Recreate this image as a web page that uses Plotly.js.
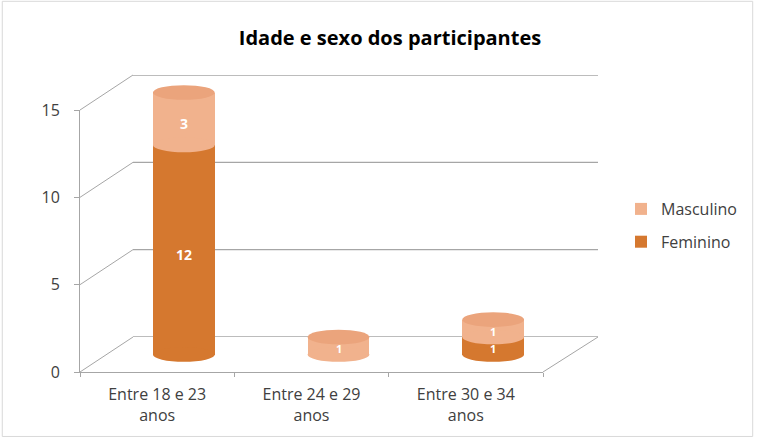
<!DOCTYPE html>
<html>
<head>
<meta charset="utf-8">
<script src="https://cdn.plot.ly/plotly-3.0.1.min.js"></script>
<style>html,body{margin:0;padding:0;background:#fff;}#chart{width:758px;height:440px;}</style>
</head>
<body>
<div id="chart"></div>
<script>
// ---- data ----
const categories = ["Entre 18 e 23<br>anos", "Entre 24 e 29<br>anos", "Entre 30 e 34<br>anos"];
const feminino = [12, 0, 1];
const masculino = [3, 1, 1];
const yTicks = [0, 5, 10, 15];

// ---- styling / geometry ----
const W = 758, H = 440;
const colFem = "#D5782F", colMasc = "#F1B28D", colTop = "#EBA47C";
const px = v => v / W, py = v => 1 - v / H;
const yMax = 15;
const frontX = [px(80), px(543)], frontY = [py(372), py(110)];
const backX = [px(133), px(598)], backY = [py(337), py(75)];
const midX = [(frontX[0] + backX[0]) / 2, (frontX[1] + backX[1]) / 2];
const midY = [(frontY[0] + backY[0]) / 2, (frontY[1] + backY[1]) / 2];
const unit = (midY[1] - midY[0]) / yMax;
const midYext = [midY[0] - unit, midY[1] + unit];
const gridCol = "#A6A6A6";
const font = "'Open Sans', Lato, sans-serif";

const traces = [
  {type: "scatter", x: categories, y: categories.map(() => 0), xaxis: "x", yaxis: "y",
   mode: "markers", marker: {opacity: 0}, showlegend: false, hoverinfo: "skip"},
  {type: "scatter", x: categories, y: categories.map(() => 0), xaxis: "x3", yaxis: "y3",
   mode: "markers", marker: {opacity: 0}, showlegend: false, hoverinfo: "skip"},
  {type: "bar", name: "Feminino", legendgroup: "f", legendrank: 2, x: categories, y: feminino,
   xaxis: "x2", yaxis: "y2", width: 0.4, marker: {color: colFem, line: {width: 0}}},
  {type: "bar", name: "Masculino", legendgroup: "m", legendrank: 1, x: categories, y: masculino,
   xaxis: "x2", yaxis: "y2", width: 0.4, marker: {color: colMasc, line: {width: 0}}}
];

// ---- decorative 3D shapes ----
const shapes = [];
const fy = v => frontY[0] + v / yMax * (frontY[1] - frontY[0]);
const by = v => backY[0] + v / yMax * (backY[1] - backY[0]);
yTicks.forEach(v => {
  shapes.push({type: "line", xref: "paper", yref: "paper", x0: frontX[0], y0: fy(v), x1: backX[0], y1: by(v),
    line: {color: gridCol, width: 1}, layer: "below"});
  shapes.push({type: "line", xref: "x3 domain", yref: "y3", x0: 0, x1: 1, y0: v, y1: v,
    line: {color: gridCol, width: 1.3}, layer: "below"});
});
// floor right edge
shapes.push({type: "line", xref: "paper", yref: "paper", x0: frontX[1], y0: fy(0), x1: backX[1], y1: by(0),
  line: {color: gridCol, width: 1}, layer: "below"});
// cylinder ellipses
const eh = 0.42, bw = 0.2;
const annotations = [];
categories.forEach((c, i) => {
  const segs = [[0, feminino[i], colFem], [feminino[i], feminino[i] + masculino[i], colMasc]];
  segs.forEach(([b, t, col]) => {
    if (t > b) {
      shapes.push({type: "circle", xref: "x2", yref: "y2", x0: i - bw, x1: i + bw,
        y0: b - eh, y1: b + eh, fillcolor: col, line: {width: 0}, layer: "above"});
      const small = (t - b) < 2;
      annotations.push({xref: "x2", yref: "y2", x: i, y: (b + t) / 2, text: "<b>" + (t - b) + "</b>",
        showarrow: false, yshift: small ? -3 : -5, borderpad: 0,
        font: {color: "#ffffff", size: small ? 11 : 14, family: font}});
    }
  });
  const tot = feminino[i] + masculino[i];
  shapes.push({type: "circle", xref: "x2", yref: "y2", x0: i - bw, x1: i + bw,
    y0: tot - eh, y1: tot + eh, fillcolor: colTop, line: {width: 0}, layer: "above"});
});
// chart frame
shapes.push({type: "rect", xref: "paper", yref: "paper", x0: 0.003, x1: 0.993, y0: 0.008, y1: 0.997,
  line: {color: "#D9D9D9", width: 1}, fillcolor: "rgba(0,0,0,0)", layer: "below"});

const layout = {
  width: W, height: H,
  margin: {l: 0, r: 0, t: 0, b: 0},
  paper_bgcolor: "#ffffff", plot_bgcolor: "rgba(0,0,0,0)",
  font: {family: font, color: "#404040", size: 16},
  title: {text: "<b>Idade e sexo dos participantes</b>", x: px(390), xanchor: "center",
    y: py(38), yanchor: "middle", font: {size: 20, color: "#000000", family: font}},
  barmode: "stack",
  showlegend: true,
  legend: {x: px(621), y: py(192), xanchor: "left", yanchor: "top", traceorder: "grouped",
    tracegroupgap: 9, font: {size: 16, color: "#404040"}, bgcolor: "rgba(0,0,0,0)"},
  xaxis: {domain: frontX, anchor: "y", type: "category", range: [-0.5, 2.5], showline: true,
    linecolor: gridCol, ticks: "outside", tickson: "boundaries", ticklen: 4, tickcolor: gridCol,
    ticklabelstandoff: 8,
    showgrid: false, zeroline: false, tickfont: {size: 16, color: "#404040"}, fixedrange: true},
  yaxis: {domain: frontY, anchor: "x", range: [0, yMax], tickvals: yTicks, showline: true,
    linecolor: gridCol, ticks: "outside", ticklen: 5, tickcolor: gridCol, showgrid: false, zeroline: false,
    ticklabelstandoff: 11,
    tickfont: {size: 16, color: "#404040"}, fixedrange: true},
  xaxis2: {domain: midX, anchor: "y2", type: "category", range: [-0.5, 2.5], visible: false},
  yaxis2: {domain: midYext, anchor: "x2", range: [-1, yMax + 1], visible: false},
  xaxis3: {domain: backX, anchor: "y3", type: "category", range: [-0.5, 2.5], visible: false},
  yaxis3: {domain: backY, anchor: "x3", range: [0, yMax], visible: false},
  shapes: shapes,
  annotations: annotations
};

Plotly.newPlot("chart", traces, layout, {displayModeBar: false, staticPlot: true});
</script>
</body>
</html>
